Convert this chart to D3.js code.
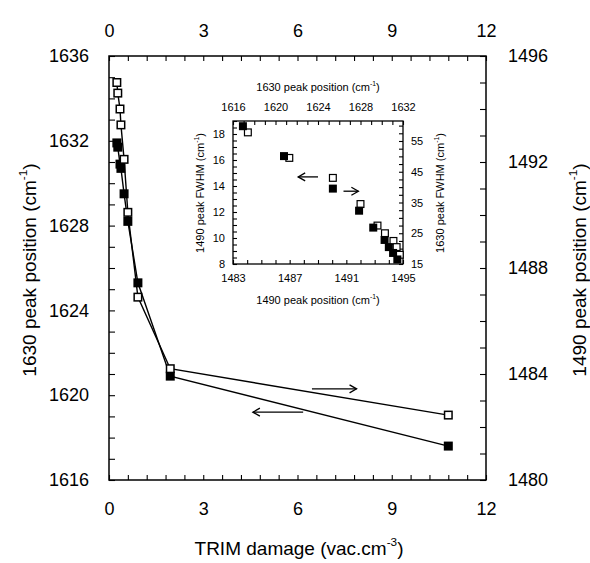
<!DOCTYPE html>
<html><head><meta charset="utf-8">
<script src="https://cdn.jsdelivr.net/npm/d3@7"></script>
<style>body{margin:0;background:#fff}svg{display:block}text{font-family:"Liberation Sans",Arial,sans-serif;fill:#000}</style>
</head><body><div id="c"></div>
<script>
// ---- main chart data ----
const damage   = [0.25, 0.28, 0.35, 0.38, 0.48, 0.6, 0.92, 1.95, 10.8];
const pos1630  = [1631.9, 1631.7, 1630.9, 1630.7, 1629.5, 1628.2, 1625.3, 1620.9, 1617.6];
const pos1490  = [1495.0, 1494.6, 1494.0, 1493.4, 1492.1, 1490.1, 1486.9, 1484.2, 1482.45];
const xTicks   = [0, 3, 6, 9, 12];
const yLTicks  = [1616, 1620, 1624, 1628, 1632, 1636];
const yRTicks  = [1480, 1484, 1488, 1492, 1496];
// ---- inset data ----
const in1490pos  = [1483.7, 1486.6, 1490.05, 1491.9, 1492.9, 1493.7, 1494.0, 1494.3, 1494.6];
const in1490fwhm = [18.6, 16.3, 13.8, 12.1, 10.8, 9.85, 9.3, 8.85, 8.35];
const in1630pos  = [1617.4, 1621.3, 1625.4, 1628.0, 1629.6, 1630.3, 1631.1, 1631.4, 1631.7];
const in1630fwhm = [57.8, 49.5, 43.0, 34.5, 27.5, 25.0, 22.5, 20.5, 18.0];
const inXTicks = [1483, 1487, 1491, 1495];
const inTopTicks = [1616, 1620, 1624, 1628, 1632];
const inYLTicks = [8, 10, 12, 14, 16, 18];
const inYRTicks = [15, 25, 35, 45, 55];

const W = 590, H = 563;
const svg = d3.select("#c").append("svg").attr("width", W).attr("height", H);

const x  = d3.scaleLinear().domain([0, 12]).range([109, 486]);
const yL = d3.scaleLinear().domain([1616, 1636]).range([480, 56]);
const yR = d3.scaleLinear().domain([1480, 1496]).range([480, 56]);

const fmt = d3.format("d");
function tickSet(g, axisFn, scale, vals, tr, size) {
  g.append("g").attr("transform",tr).call(axisFn(scale).tickValues(vals).tickSize(size).tickFormat(""))
   .call(s=>{s.select(".domain").remove();s.selectAll("line").attr("stroke","#000").attr("stroke-width",1.1);});
}
function labels(g, axisFn, scale, vals, tr, pad, fs) {
  g.append("g").attr("transform",tr).call(axisFn(scale).tickValues(vals).tickSize(0).tickPadding(pad).tickFormat(fmt))
   .call(s=>{s.select(".domain").remove();s.selectAll("text").attr("font-size",fs).attr("font-family","Liberation Sans, Arial, sans-serif");});
}
tickSet(svg, d3.axisBottom, x, d3.range(0,12.01,0.6), "translate(0,480)", -5);
labels(svg, d3.axisBottom, x, xTicks, "translate(0,480)", 22, 18);
tickSet(svg, d3.axisTop, x, d3.range(0,12.01,0.6), "translate(0,56)", -5);
labels(svg, d3.axisTop, x, xTicks, "translate(0,56)", 19, 18);
tickSet(svg, d3.axisLeft, yL, d3.range(1616,1636.1,1), "translate(109,0)", -6);
labels(svg, d3.axisLeft, yL, yLTicks, "translate(109,0)", 20, 18);
tickSet(svg, d3.axisRight, yR, d3.range(1480,1496.1,1), "translate(486,0)", -6);
labels(svg, d3.axisRight, yR, yRTicks, "translate(486,0)", 22, 18);
svg.append("rect").attr("x",109).attr("y",56).attr("width",377).attr("height",424)
  .attr("fill","none").attr("stroke","#000").attr("stroke-width",1.5);

function supTitle(g, main, sup, tail, size) {
  const t = g.append("text").attr("font-size", size).attr("text-anchor","middle");
  t.append("tspan").text(main);
  t.append("tspan").attr("font-size", size*0.62).attr("dy", -size*0.45).text(sup);
  t.append("tspan").attr("dy", size*0.45).text(tail);
  return t;
}
supTitle(svg.append("g").attr("transform","translate(36,270) rotate(-90)"), "1630 peak position (cm", "-1", ")", 19);
supTitle(svg.append("g").attr("transform","translate(586,270) rotate(-90)"), "1490 peak position (cm", "-1", ")", 19);
supTitle(svg.append("g").attr("transform","translate(299,555)"), "TRIM damage (vac.cm", "-3", ")", 19);

const lineL = d3.line().x((d,i)=>x(damage[i])).y(d=>yL(d));
const lineR = d3.line().x((d,i)=>x(damage[i])).y(d=>yR(d));
svg.append("path").attr("d", lineR(pos1490)).attr("fill","none").attr("stroke","#000").attr("stroke-width",1.4);
svg.append("path").attr("d", lineL(pos1630)).attr("fill","none").attr("stroke","#000").attr("stroke-width",1.4);
const ms = 9;
svg.selectAll("rect.f").data(pos1630).enter().append("rect")
  .attr("x",(d,i)=>x(damage[i])-ms/2).attr("y",d=>yL(d)-ms/2).attr("width",ms).attr("height",ms).attr("fill","#000");
svg.selectAll("rect.o").data(pos1490).enter().append("rect")
  .attr("x",(d,i)=>x(damage[i])-ms/2+0.75).attr("y",d=>yR(d)-ms/2+0.75).attr("width",ms-1.5).attr("height",ms-1.5)
  .attr("fill","#fff").attr("stroke","#000").attr("stroke-width",1.5);

const mainArrows = [
  {x0: 6.46, x1: 7.88, y: 1620.3},
  {x0: 4.58, x1: 6.18, y: 1619.2, left: true}
];
function arrow(g, xa, xb, yy, left) {
  const tip = left ? xa : xb, dir = left ? 1 : -1;
  g.append("line").attr("x1",xa).attr("x2",xb).attr("y1",yy).attr("y2",yy).attr("stroke","#000").attr("stroke-width",1.3);
  g.append("path").attr("d",`M${tip+dir*7},${yy-4}L${tip},${yy}L${tip+dir*7},${yy+4}`).attr("fill","none").attr("stroke","#000").attr("stroke-width",1.3);
}
mainArrows.forEach(a => arrow(svg, x(a.x0), x(a.x1), yL(a.y), a.left));

// ---- inset ----
const ix  = d3.scaleLinear().domain([1483, 1495]).range([233, 403]);
const ixT = d3.scaleLinear().domain([1616, 1632]).range([233, 403]);
const iyL = d3.scaleLinear().domain([8, 19]).range([264, 121]);
const iyR = d3.scaleLinear().domain([15, 61.5]).range([264, 121]);
const inset = svg.append("g");
inset.append("rect").attr("x",233).attr("y",121).attr("width",170).attr("height",143).attr("fill","#fff");
tickSet(inset, d3.axisBottom, ix, d3.range(1483,1495.01,1), "translate(0,264)", -4);
tickSet(inset, d3.axisTop, ixT, d3.range(1616,1632.01,1), "translate(0,121)", -4);
tickSet(inset, d3.axisLeft, iyL, d3.range(8,19.01,0.5), "translate(233,0)", -4);
tickSet(inset, d3.axisRight, iyR, d3.range(15,61.01,2.5), "translate(403,0)", -4);
labels(inset, d3.axisBottom, ix, inXTicks, "translate(0,264)", 10, 11);
labels(inset, d3.axisTop, ixT, inTopTicks, "translate(0,121)", 10, 11);
labels(inset, d3.axisLeft, iyL, inYLTicks, "translate(233,0)", 8, 11);
labels(inset, d3.axisRight, iyR, inYRTicks, "translate(403,0)", 8, 11);
inset.append("rect").attr("x",233).attr("y",121).attr("width",170).attr("height",143)
  .attr("fill","none").attr("stroke","#000").attr("stroke-width",1.3);
supTitle(inset.append("g").attr("transform","translate(318,91)"), "1630 peak position (cm", "-1", ")", 11);
supTitle(inset.append("g").attr("transform","translate(318,304)"), "1490 peak position (cm", "-1", ")", 11);
supTitle(inset.append("g").attr("transform","translate(204,193) rotate(-90)"), "1490 peak FWHM (cm", "-1", ")", 11);
supTitle(inset.append("g").attr("transform","translate(444,193) rotate(-90)"), "1630 peak FWHM (cm", "-1", ")", 11);

const ims = 8;
inset.selectAll("rect.io").data(in1630fwhm).enter().append("rect")
  .attr("x",(d,i)=>ixT(in1630pos[i])-ims/2+0.6).attr("y",d=>iyR(d)-ims/2+0.6).attr("width",ims-1.2).attr("height",ims-1.2)
  .attr("fill","#fff").attr("stroke","#000").attr("stroke-width",1.2);
inset.selectAll("rect.if").data(in1490fwhm).enter().append("rect")
  .attr("x",(d,i)=>ix(in1490pos[i])-ims/2).attr("y",d=>iyL(d)-ims/2).attr("width",ims).attr("height",ims).attr("fill","#000");

const insetArrows = [
  {x0: 1487.6, x1: 1489.0, y: 14.7, left: true},
  {x0: 1490.8, x1: 1491.85, y: 13.6}
];
insetArrows.forEach(a => arrow(inset, ix(a.x0), ix(a.x1), iyL(a.y), a.left));
</script></body></html>
